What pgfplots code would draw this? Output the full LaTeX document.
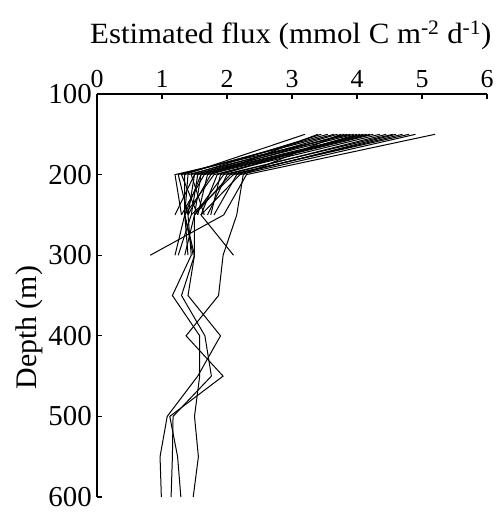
\documentclass[border=0pt]{standalone}
\usepackage{pgfplots}
\pgfplotsset{compat=1.18}
\usepackage{fontspec}
\setmainfont{Liberation Serif}
\newfontfamily\titlefont{Liberation Serif}[FakeStretch=1.05]
\begin{document}
\fontsize{30}{34}\selectfont
\begin{tikzpicture}
\begin{axis}[
  name=ax,
  scale only axis,
  width=390bp, height=403bp,
  xmin=0, xmax=6, ymin=100, ymax=600,
  y dir=reverse,
  axis x line*=top, axis y line*=left,
  axis line style={-, line width=1.6bp},
  tick align=inside,
  major tick length=5bp,
  tick style={line width=1.3bp, black},
  xtick={0,1,2,3,4,5,6},
  ytick={100,200,300,400,500,600},
  /pgf/number format/assume math mode=true,
  xticklabel style={font=\fontsize{26}{30}\selectfont, yshift=-4bp},
  yticklabel style={font=\fontsize{29}{33}\selectfont, xshift=5bp},
  xlabel={Estimated flux (mmol C m\textsuperscript{-2} d\textsuperscript{-1})},
  xlabel style={font=\titlefont\fontsize{29.5}{32}\selectfont, at={(axis description cs:0.497,1)}, anchor=base, yshift=51bp},
  ylabel={Depth (m)},
  ylabel style={font=\fontsize{30}{34}\selectfont, at={(axis description cs:0,0.42)}, anchor=base, yshift=60bp},
  cycle list={{black,solid}},
  every axis plot/.append style={black, line width=1bp, no markers},
  clip=false,
]
% upper profiles
\addplot coordinates {(5.20,150) (2.30,200) (1.95,250) (0.82,300)};
\addplot coordinates {(4.90,150) (2.20,200) (1.60,250) (2.10,300)};
\addplot coordinates {(4.70,150) (2.10,200) (1.45,250) (1.25,300)};
\addplot coordinates {(4.55,150) (1.95,200) (1.50,250) (1.35,300)};
\addplot coordinates {(4.45,150) (2.00,200) (1.70,250)};
\addplot coordinates {(4.35,150) (1.80,200) (1.35,250) (1.48,300)};
\addplot coordinates {(4.25,150) (1.70,200) (1.55,250)};
\addplot coordinates {(4.20,150) (1.65,200) (1.30,250)};
\addplot coordinates {(4.10,150) (1.55,200) (1.45,250)};
\addplot coordinates {(4.05,150) (1.85,200) (1.60,250)};
\addplot coordinates {(4.00,150) (1.90,200) (1.75,250)};
\addplot coordinates {(4.60,150) (2.15,200) (1.80,250)};
\addplot coordinates {(3.90,150) (1.20,200) (1.30,250)};
\addplot coordinates {(4.15,150) (1.60,200) (1.35,250) (1.20,300)};
\addplot coordinates {(3.65,150) (1.25,200) (1.40,250)};
\addplot coordinates {(3.55,150) (1.30,200) (1.55,250)};
\addplot coordinates {(3.45,150) (1.45,200) (1.65,250)};
\addplot coordinates {(3.40,150) (1.75,200) (1.40,250)};
\addplot coordinates {(3.20,150) (1.35,200) (1.35,250) (1.40,300)};
\addplot coordinates {(4.80,150) (2.05,200) (1.50,250)};
\addplot coordinates {(3.70,150) (1.50,200) (1.20,250)};
% long profiles
\addplot coordinates {(3.95,150) (1.50,200) (1.40,250) (1.45,300) (1.16,350) (1.58,400) (1.58,450) (1.50,500) (1.56,550) (1.48,600)};
\addplot coordinates {(3.85,150) (1.40,200) (1.35,250) (1.50,300) (1.30,350) (1.66,400) (1.76,450) (1.17,500) (1.16,550) (1.14,600)};
\addplot coordinates {(3.80,150) (1.60,200) (1.50,250) (1.50,300) (1.40,350) (1.90,400) (1.55,450) (1.08,500) (0.97,550) (0.99,600)};
\addplot coordinates {(3.75,150) (2.25,200) (2.15,250) (1.94,300) (1.87,350) (1.37,400) (1.94,450) (1.12,500) (1.24,550) (1.29,600)};
\end{axis}
\pgfresetboundingbox
\useasboundingbox ([xshift=-97bp,yshift=-20bp]ax.south west) rectangle ++(497bp,517bp);
\end{tikzpicture}
\end{document}
